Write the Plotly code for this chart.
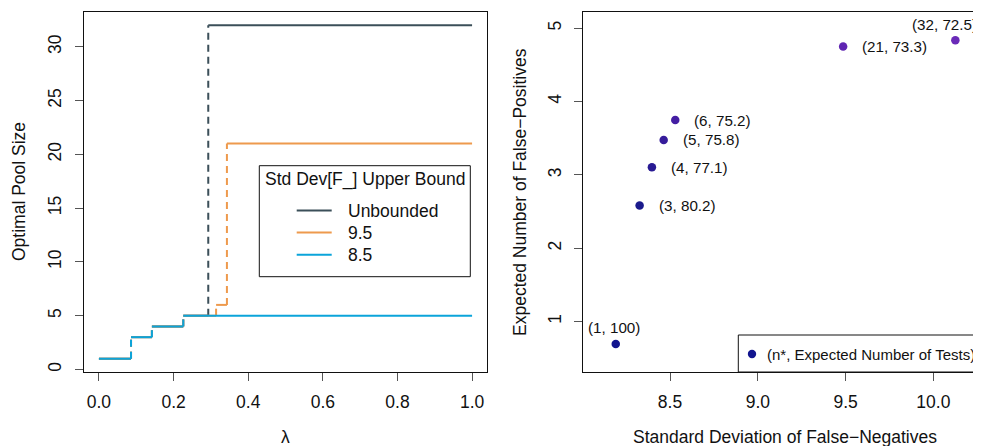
import plotly.graph_objects as go

# ---------------- data ----------------
# Left panel: optimal pool size as a step function of lambda
lam_breaks_unbounded = [0.0, 0.086, 0.142, 0.226, 0.293, 1.0]
pool_unbounded = [1, 3, 4, 5, 32]
lam_breaks_95 = [0.0, 0.086, 0.142, 0.226, 0.314, 0.343, 1.0]
pool_95 = [1, 3, 4, 5, 6, 21]
lam_breaks_85 = [0.0, 0.086, 0.142, 0.226, 1.0]
pool_85 = [1, 3, 4, 5]
series_names = ["Unbounded", "9.5", "8.5"]
series_colors = ["#3B4F59", "#EE9A4D", "#0BA4DA"]

x_left_ticks = [0.0, 0.2, 0.4, 0.6, 0.8, 1.0]
x_left_ticktext = ["0.0", "0.2", "0.4", "0.6", "0.8", "1.0"]
y_left_ticks = [0, 5, 10, 15, 20, 25, 30]

# Right panel: (sd of false negatives, expected false positives)
n_star = [1, 3, 4, 5, 6, 21, 32]
expected_tests = ["100", "80.2", "77.1", "75.8", "75.2", "73.3", "72.5"]
sd_false_neg = [8.191, 8.327, 8.397, 8.464, 8.530, 9.486, 10.125]
exp_false_pos = [0.695, 2.582, 3.104, 3.477, 3.749, 4.750, 4.836]
point_colors = ["#12158F", "#1A1A8C", "#281A93", "#361C9B", "#441EA3", "#5F25B2", "#6A2AB8"]

x_right_ticks = [8.5, 9.0, 9.5, 10.0]
x_right_ticktext = ["8.5", "9.0", "9.5", "10.0"]
y_right_ticks = [1, 2, 3, 4, 5]

legend_title = "Std Dev[F_] Upper Bound"
right_legend_text = "(n*, Expected Number of Tests)"

# ---------------- layout helpers ----------------
# The page body has an 8px margin, so the figure is sized to the visible area.
OFF = 8
W, H = 981 - OFF, 446 - OFF
ML, MR, MT, MB = 84 - OFF, 0, 12 - OFF, 74
PW, PH = W - ML - MR, H - MT - MB
FONT = "Liberation Sans, Arial, Helvetica, sans-serif"
FS = 17.5
FS_SMALL = 15.2
FS_LEG2 = 15.0


def px(xp):
    """page x pixel -> paper fraction"""
    return (xp - OFF - ML) / PW


def py(yp):
    """page y pixel -> paper fraction"""
    return (H - MB - (yp - OFF)) / PH


def steps(breaks, vals):
    hx, hy, vx, vy = [], [], [], []
    for i, v in enumerate(vals):
        hx += [breaks[i], breaks[i + 1], None]
        hy += [v, v, None]
        if i > 0:
            vx += [breaks[i], breaks[i], None]
            vy += [vals[i - 1], v, None]
    return hx, hy, vx, vy


fig = go.Figure()

for breaks, vals, name, col in zip(
    [lam_breaks_unbounded, lam_breaks_95, lam_breaks_85],
    [pool_unbounded, pool_95, pool_85],
    series_names, series_colors,
):
    hx, hy, vx, vy = steps(breaks, vals)
    fig.add_trace(go.Scatter(x=vx, y=vy, mode="lines", xaxis="x", yaxis="y",
                             line=dict(color=col, width=2, dash="7px,5px"),
                             showlegend=False, hoverinfo="skip"))
    fig.add_trace(go.Scatter(x=hx, y=hy, mode="lines", xaxis="x", yaxis="y",
                             name=name, line=dict(color=col, width=2),
                             showlegend=False))

fig.add_trace(go.Scatter(
    x=sd_false_neg, y=exp_false_pos, mode="markers", xaxis="x2", yaxis="y2",
    marker=dict(color=point_colors, size=8.5, line=dict(width=0)),
    showlegend=False, cliponaxis=False,
))

label_pos = ["above", "right", "right", "right", "right", "right", "above_left"]
annotations = []
for xv, yv, n, t, pos in zip(sd_false_neg, exp_false_pos, n_star, expected_tests, label_pos):
    txt = f"({n}, {t})"
    if pos == "right":
        a = dict(xanchor="left", yanchor="middle", xshift=17, yshift=0)
    elif pos == "above":
        a = dict(xanchor="center", yanchor="middle", xshift=-2, yshift=16)
    else:
        a = dict(xanchor="center", yanchor="middle", xshift=-11, yshift=16)
    annotations.append(dict(x=xv, y=yv, xref="x2", yref="y2", text=txt,
                            showarrow=False, font=dict(size=FS_SMALL, color="#111"), **a))

# axis titles
annotations += [
    dict(x=px(285.4), y=py(437), xref="paper", yref="paper", text="λ", showarrow=False,
         xanchor="center", yanchor="middle", font=dict(size=FS, color="#111")),
    dict(x=px(785), y=py(437), xref="paper", yref="paper",
         text="Standard Deviation of False\u2212Negatives", showarrow=False,
         xanchor="center", yanchor="middle", font=dict(size=FS, color="#111")),
    dict(x=px(19), y=py(192), xref="paper", yref="paper", text="Optimal Pool Size",
         textangle=-90, showarrow=False, xanchor="center", yanchor="middle",
         font=dict(size=FS, color="#111")),
    dict(x=px(520), y=py(192), xref="paper", yref="paper",
         text="Expected Number of False\u2212Positives",
         textangle=-90, showarrow=False, xanchor="center", yanchor="middle",
         font=dict(size=FS, color="#111")),
]

# left legend (drawn by hand to match R legend layout)
shapes = [dict(type="rect", xref="paper", yref="paper", x0=px(259.3), x1=px(470.3),
               y0=py(276.7), y1=py(165.7), line=dict(color="#111", width=1),
               fillcolor="white", layer="above")]
annotations.append(dict(x=px(364.5), y=py(179), xref="paper", yref="paper", text=legend_title,
                        showarrow=False, xanchor="center", yanchor="middle",
                        font=dict(size=FS, color="#111")))
for i, (name, col) in enumerate(zip(series_names, series_colors)):
    yy = [210.5, 232.6, 254.8][i]
    shapes.append(dict(type="line", xref="paper", yref="paper", x0=px(296.7), x1=px(331.7),
                       y0=py(yy), y1=py(yy), line=dict(color=col, width=2), layer="above"))
    annotations.append(dict(x=px(347), y=py(yy), xref="paper", yref="paper", text=name,
                            showarrow=False, xanchor="left", yanchor="middle", xshift=-1,
                            font=dict(size=FS, color="#111")))

# right legend
shapes.append(dict(type="rect", xref="paper", yref="paper", x0=px(738.3), x1=1.02,
                   y0=0, y1=py(335), line=dict(color="#111", width=1), layer="above"))
shapes.append(dict(type="circle", xref="paper", yref="paper", x0=px(752 - 4.2), x1=px(752 + 4.2),
                   y0=py(354 + 4.2), y1=py(354 - 4.2), line=dict(width=0),
                   fillcolor=point_colors[0], layer="above"))
annotations.append(dict(x=px(766.5), y=py(354), xref="paper", yref="paper", text=right_legend_text,
                        showarrow=False, xanchor="left", yanchor="middle", xshift=-2,
                        font=dict(size=FS_LEG2, color="#111")))

axis_common = dict(showgrid=False, zeroline=False, showline=True, linecolor="#111",
                   linewidth=1, ticks="outside", ticklen=8, tickwidth=1, tickcolor="#555",
                   tickfont=dict(size=FS, color="#111"))

# right x range: 8.5 at page x 670, 175.6 px per unit, visible to page x 981
x_right_start = 8.5 - (670 - 583.3) / 175.6
x_right_end = 8.5 + (981 - 670) / 175.6

fig.update_layout(
    width=W, height=H,
    margin=dict(l=ML, r=MR, t=MT, b=MB, pad=0),
    paper_bgcolor="white", plot_bgcolor="white",
    font=dict(family=FONT, size=FS, color="#111"),
    showlegend=False,
    xaxis=dict(domain=[0, px(487)], range=[-0.04, 1.04], tickvals=x_left_ticks,
               ticktext=x_left_ticktext, mirror=True, anchor="y",
               ticklabelstandoff=6, **axis_common),
    yaxis=dict(domain=[0, 1], range=[-0.24, 33.24], tickvals=y_left_ticks, mirror=True,
               anchor="x", tickangle=-90, ticklabelstandoff=7, **axis_common),
    xaxis2=dict(domain=[px(583.3), 1], range=[x_right_start, x_right_end], tickvals=x_right_ticks,
                ticktext=x_right_ticktext, mirror=True, anchor="y2",
                ticklabelstandoff=6, **axis_common),
    yaxis2=dict(domain=[0, 1], range=[0.313, 5.222], tickvals=y_right_ticks, mirror=False,
                anchor="x2", tickangle=-90, ticklabelstandoff=6, **axis_common),
    annotations=annotations,
    shapes=shapes,
)

fig.write_html("out.html")
